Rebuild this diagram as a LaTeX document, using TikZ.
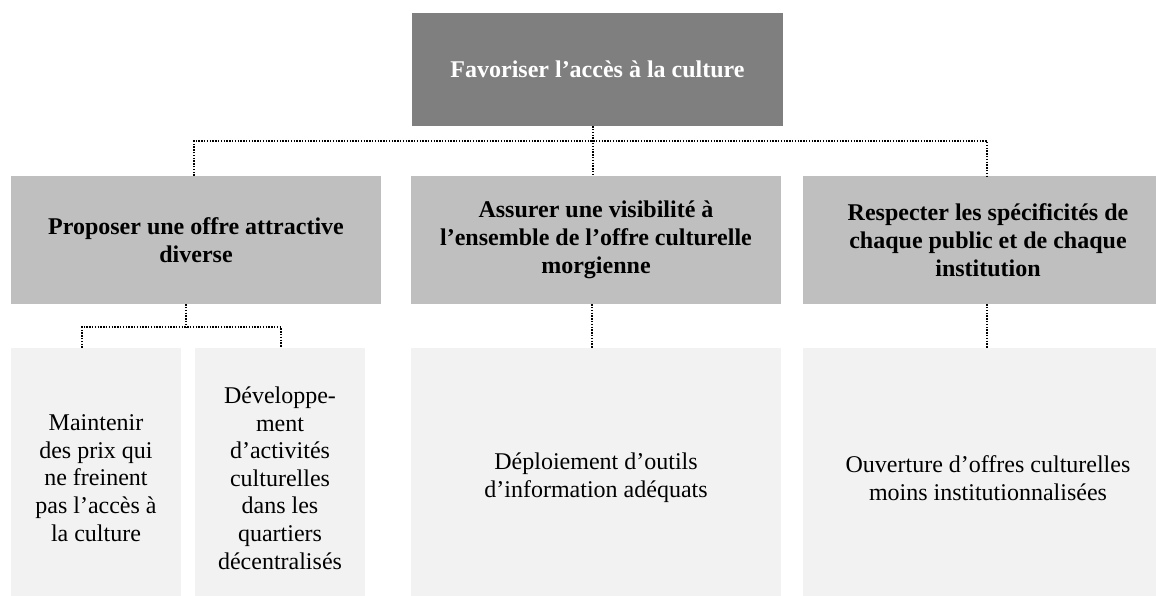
\documentclass[tikz,border=0pt]{standalone}
\usepackage{fontspec}
\setmainfont{Liberation Serif}
\usetikzlibrary{positioning}

\definecolor{goalgray}{HTML}{7F7F7F}
\definecolor{axisgray}{HTML}{BFBFBF}
\definecolor{actiongray}{HTML}{F2F2F2}

\tikzset{
	goal/.style={fill=goalgray, text=white, inner sep=0pt, align=center,
		font=\bfseries\fontsize{24}{28}\selectfont},
	axis/.style={fill=axisgray, inner sep=0pt, align=center, minimum width=370pt,
		minimum height=128pt, font=\bfseries\fontsize{24}{28}\selectfont},
	action/.style={fill=actiongray, inner sep=0pt, align=center,
		minimum height=260pt, font=\fontsize{24}{27.6}\selectfont},
	link/.style={line width=1.4pt, dash pattern=on 1.4pt off 1.4pt}
}

\begin{document}
\begin{tikzpicture}[x=1pt,y=-1pt]
		\clip (0,0) rectangle (1156,596);
		\node[goal, minimum width=371pt, minimum height=113pt,
			text height=17pt, text depth=0pt] (G) at (597.5,69.5) {Favoriser l’accès à la culture};
		\node[axis] (A1) at (196,240) {Proposer une offre attractive\\diverse};
		\node[axis] (A2) at (596,240) {Assurer une visibilité à\\l’ensemble de l’offre culturelle\\morgienne};
		\node[axis] (A3) at (988,240) {Respecter les spécificités de\\chaque public et de chaque\\institution};
		\node[action, minimum width=170pt] (P1) at (96,478) {Maintenir\\des prix qui\\ne freinent\\pas l’accès à\\la culture};
		\node[action, minimum width=170pt] (P2) at (280,478) {Développe-\\ment\\d’activités\\culturelles\\dans les\\quartiers\\décentralisés};
		\node[action, minimum width=370pt] (V1) at (596,478) {Déploiement d’outils\\d’information adéquats};
		\node[action, minimum width=370pt] (R1) at (988,478) {Ouverture d’offres culturelles\\moins institutionnalisées};
				%
		\coordinate (bus) at (593,141);
		\coordinate (busL) at (194,141);
		\coordinate (busR) at (987,141);
		\coordinate (sub) at (186,327);
		\coordinate (subL) at (82,327);
		\coordinate (subR) at (281,327);
		\coordinate (visi) at (592,327);
		\draw[link] (G.south -| bus) -- (A2.north -| bus)
			(A1.north -| busL) -- (busL) -- (busR) -- (A3.north -| busR)
			(A1.south -| sub) -- (sub)
			(P1.north -| subL) -- (subL) -- (subR) -- (P2.north -| subR)
			(A2.south -| visi) -- (V1.north -| visi)
			(A3.south -| busR) -- (R1.north -| busR);
	\end{tikzpicture}
\end{document}
